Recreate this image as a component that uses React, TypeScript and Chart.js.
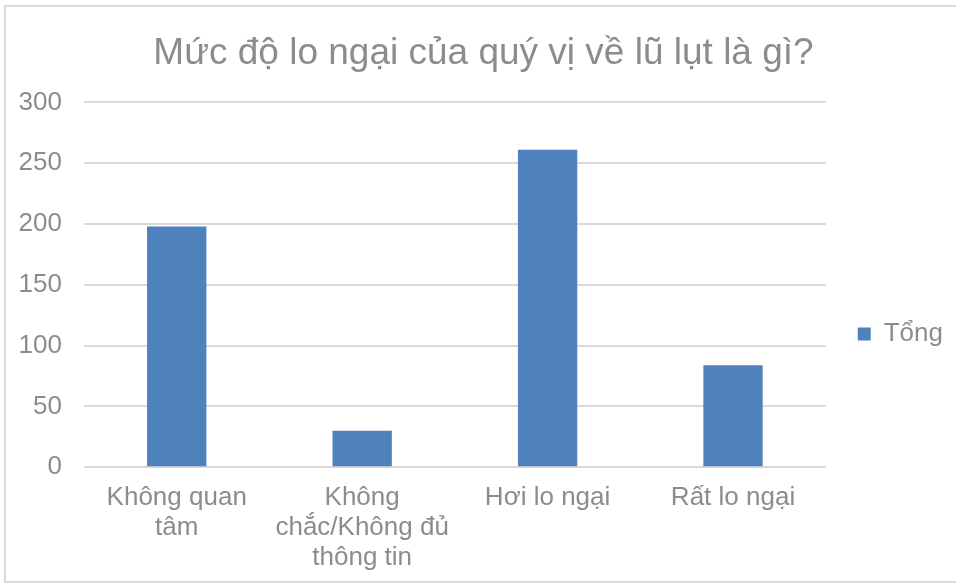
import React, { useEffect, useRef } from "react";
import { Chart, registerables } from "chart.js";

Chart.register(...registerables);

const categories: (string | string[])[] = [
  ["Không quan", "tâm"],
  ["Không", "chắc/Không đủ", "thông tin"],
  "Hơi lo ngại",
  "Rất lo ngại",
];
const seriesName = "Tổng";
const values = [198, 30, 261, 84];
const yTicks = [0, 50, 100, 150, 200, 250, 300];
const titleText = "Mức độ lo ngại của quý vị về lũ lụt là gì?";

const FONT = "'Liberation Sans', Arial, Helvetica, sans-serif";
const GRAY = "#8c8c8c";

export default function App() {
  const ref = useRef<HTMLCanvasElement | null>(null);

  useEffect(() => {
    document.body.style.margin = "0";
    const ctx = ref.current!.getContext("2d")!;
    const chart = new Chart(ctx, {
      type: "bar",
      data: {
        labels: categories,
        datasets: [
          {
            label: seriesName,
            data: values,
            backgroundColor: "#4f81bd",
            borderWidth: 0,
            barPercentage: 0.32,
            categoryPercentage: 1,
          },
        ],
      },
      options: {
        animation: false,
        responsive: false,
        devicePixelRatio: 1,
        layout: { padding: { left: 14, right: 3, top: 0, bottom: 0 } },
        plugins: {
          title: {
            display: true,
            text: titleText,
            color: GRAY,
            font: { family: FONT, size: 37, weight: "normal", lineHeight: 1.2 },
            padding: { top: 32, bottom: 26 },
          },
          legend: {
            display: true,
            position: "right",
            align: "center",
            title: {
              display: true,
              text: " ",
              font: { family: FONT, size: 10, lineHeight: 1.2 },
              padding: { top: 72, bottom: 0 },
            },
            labels: {
              boxWidth: 13,
              boxHeight: 13,
              padding: 10,
              color: GRAY,
              font: { family: FONT, size: 26 },
            },
          },
          tooltip: { enabled: false },
        },
        scales: {
          x: {
            grid: { display: false, drawTicks: false },
            border: { display: false },
            ticks: {
              color: GRAY,
              font: { family: FONT, size: 26, lineHeight: 1.15 },
              padding: 16,
              maxRotation: 0,
              minRotation: 0,
              autoSkip: false,
            },
            afterFit: (s: any) => {
              s.height = s.height - 5;
            },
          },
          y: {
            min: 0,
            max: 300,
            afterBuildTicks: (s: any) => {
              s.ticks = yTicks.map((v) => ({ value: v }));
            },
            grid: { color: "#d9d9d9", lineWidth: 2, drawTicks: false },
            border: { display: false },
            ticks: {
              color: GRAY,
              font: { family: FONT, size: 26 },
              padding: 22,
            },
            afterFit: (s: any) => {
              s.width = 70;
            },
          },
          gap: {
            position: "right",
            display: true,
            grid: { display: false, drawTicks: false },
            border: { display: false },
            ticks: { display: false },
            afterFit: (s: any) => {
              s.width = 22;
            },
          },
        },
      },
    });
    return () => chart.destroy();
  }, []);

  return (
    <div
      style={{
        position: "absolute",
        left: 0,
        top: 0,
        width: 956,
        height: 584,
        overflow: "hidden",
        background: "#fff",
      }}
    >
      <div
        style={{
          position: "absolute",
          left: 4,
          top: 5,
          width: 970,
          height: 578,
          boxSizing: "border-box",
          border: "2px solid #d9d9d9",
        }}
      />
      <canvas
        ref={ref}
        width={956}
        height={584}
        style={{ position: "absolute", left: 0, top: 0, width: 956, height: 584 }}
      />
    </div>
  );
}
